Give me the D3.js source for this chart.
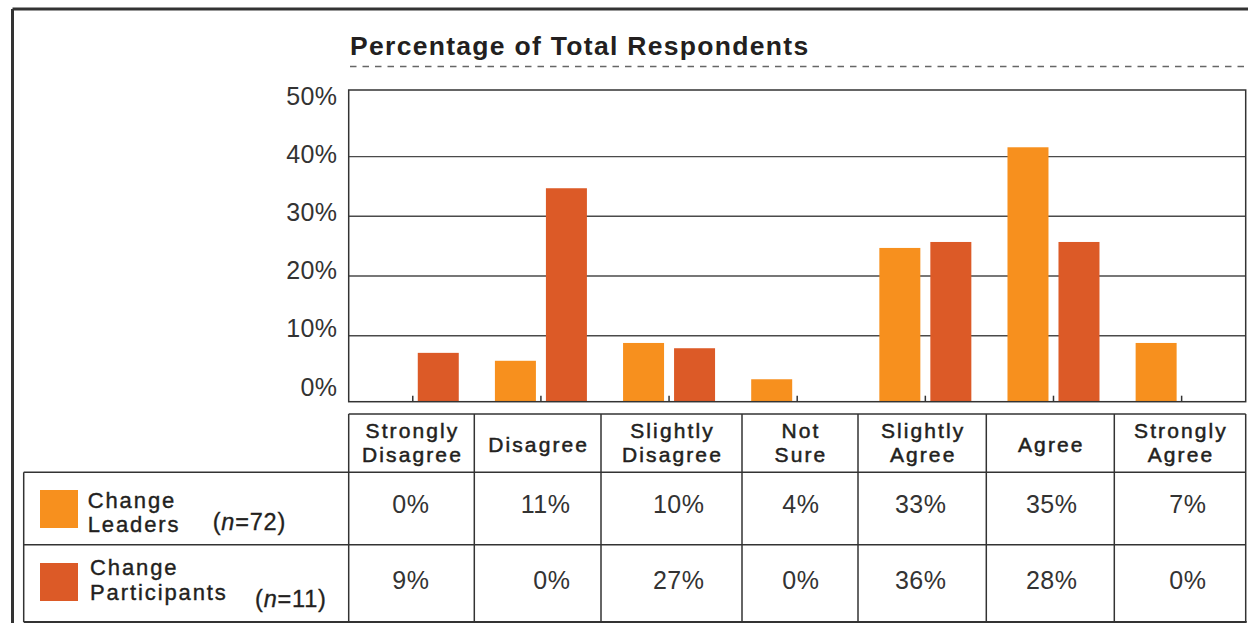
<!DOCTYPE html>
<html>
<head>
<meta charset="utf-8">
<script src="https://cdn.jsdelivr.net/npm/d3@7"></script>
<style>
  html, body { margin: 0; padding: 0; background: #fff; }
  svg { display: block; }
  text { font-family: "Liberation Sans", Arial, Helvetica, sans-serif; }
</style>
</head>
<body>
<svg id="chart" width="1248" height="623"></svg>
<script>
// ---------- data ----------
const categories = ["Strongly Disagree", "Disagree", "Slightly Disagree", "Not Sure", "Slightly Agree", "Agree", "Strongly Agree"];
const headerLines = [["Strongly", "Disagree"], ["Disagree"], ["Slightly", "Disagree"], ["Not", "Sure"], ["Slightly", "Agree"], ["Agree"], ["Strongly", "Agree"]];
const seriesKeys = ["leaders", "participants"];
const seriesLabels = [["Change", "Leaders"], ["Change", "Participants"]];
const seriesN = ["72", "11"];
const leadersBars = [0, 6.2, 8.9, 3.4, 24.7, 41.4, 8.9];
const participantsBars = [7.4, 34.7, 8.1, 0, 25.7, 25.7, 0];
const leadersTable = [0, 11, 10, 4, 33, 35, 7];
const participantsTable = [9, 0, 27, 0, 36, 28, 0];
const yTickValues = [0, 10, 20, 30, 40, 50];
const gridValues = [10, 20, 30, 40];
const titleText = "Percentage of Total Respondents";

// ---------- layout ----------
const colors = { leaders: "#F7901E", participants: "#DC5A27" };
const ink = "#231f20";
const lineCol = "#333";
const plotLeft = 348.7, plotRight = 1245.7, plotTop = 90, plotBottom = 401.7;
const colEdges = [348.7, 474.3, 601, 742, 858, 986.3, 1114.3, 1245.7];
const valueRight = [429, 570, 704, 819, 946, 1077, 1206];

const svg = d3.select("#chart");

// page frame
svg.append("line").attr("x1", 12.5).attr("x2", 1248).attr("y1", 9).attr("y2", 9)
  .attr("stroke", lineCol).attr("stroke-width", 3);
svg.append("line").attr("x1", 12.5).attr("x2", 12.5).attr("y1", 9).attr("y2", 623)
  .attr("stroke", lineCol).attr("stroke-width", 3);

// title
svg.append("text").attr("x", 350).attr("y", 55)
  .attr("font-size", 26.5).attr("font-weight", "bold").attr("letter-spacing", 1.3)
  .attr("fill", ink).text(titleText);
svg.append("line").attr("x1", 350).attr("x2", 1246).attr("y1", 66.5).attr("y2", 66.5)
  .attr("stroke", "#666").attr("stroke-width", 1.3).attr("stroke-dasharray", "6.5,6");

// scales
const y = d3.scaleLinear().domain([0, 10, 40, 50]).range([plotBottom, 335.7, 156.6, plotTop]);
const yLabel = d3.scaleLinear().domain([0, 50]).range([395, 104.7]);
const x = d3.scaleBand().domain(categories).range([plotLeft, plotRight]);
const x1 = d3.scaleBand().domain(seriesKeys)
  .range([x.bandwidth() / 2 - 46, x.bandwidth() / 2 + 46]).paddingInner(10 / 51);

// gridlines
svg.append("g").selectAll("line").data(gridValues).join("line")
  .attr("x1", plotLeft).attr("x2", plotRight)
  .attr("y1", d => y(d)).attr("y2", d => y(d))
  .attr("stroke", "#4a4a4a").attr("stroke-width", 1.4);

// bars
const barData = categories.map((c, i) => ({ cat: c, leaders: leadersBars[i], participants: participantsBars[i] }));
const groups = svg.append("g").selectAll("g").data(barData).join("g")
  .attr("transform", d => `translate(${x(d.cat)},0)`);
groups.selectAll("rect")
  .data(d => seriesKeys.map(k => ({ key: k, value: d[k] })).filter(e => e.value > 0))
  .join("rect")
  .attr("x", d => x1(d.key)).attr("width", x1.bandwidth())
  .attr("y", d => y(d.value)).attr("height", d => y(0) - y(d.value))
  .attr("fill", d => colors[d.key]);

// plot frame
svg.append("rect").attr("x", plotLeft).attr("y", plotTop)
  .attr("width", plotRight - plotLeft).attr("height", plotBottom - plotTop)
  .attr("fill", "none").attr("stroke", lineCol).attr("stroke-width", 1.5);

// category ticks
const xAxis = svg.append("g").attr("transform", `translate(0,${plotBottom})`)
  .call(d3.axisBottom(x).tickSizeInner(-6).tickSizeOuter(0).tickFormat(""));
xAxis.select(".domain").remove();
xAxis.selectAll("line").attr("stroke", lineCol).attr("stroke-width", 1.5);

// y axis labels
const yAxis = svg.append("g").attr("transform", "translate(337.5,0)")
  .call(d3.axisLeft(yLabel).tickValues(yTickValues).tickSize(0).tickPadding(0).tickFormat(d => d + "%"));
yAxis.select(".domain").remove();
yAxis.selectAll("text").attr("dy", 0).attr("font-size", 25).attr("letter-spacing", 0.4)
  .attr("fill", "#333").attr("font-family", "'Liberation Sans', Arial, sans-serif");

// ---------- table ----------
const tbl = svg.append("g");
const headerTop = 414, row1Top = 472.3, row2Top = 544.7, tableBottom = 622;
const hl = (x1_, x2_, yy, w) => tbl.append("line").attr("x1", x1_).attr("x2", x2_).attr("y1", yy).attr("y2", yy)
  .attr("stroke", lineCol).attr("stroke-width", w || 1.5);
const vl = (xx, y1_, y2_, w) => tbl.append("line").attr("x1", xx).attr("x2", xx).attr("y1", y1_).attr("y2", y2_)
  .attr("stroke", lineCol).attr("stroke-width", w || 1.5);
hl(plotLeft, plotRight, headerTop);
hl(23.7, plotRight, row1Top);
hl(23.7, plotRight, row2Top);
hl(23.7, plotRight + 1, tableBottom, 2.2);
vl(23.7, row1Top, tableBottom);
colEdges.forEach(e => vl(e, headerTop, tableBottom));

// header labels
categories.forEach((c, i) => {
  const cx = (colEdges[i] + colEdges[i + 1]) / 2 + 1;
  const lines = headerLines[i];
  const bases = lines.length === 2 ? [438.3, 462] : [451.5];
  lines.forEach((ln, j) => {
    tbl.append("text").attr("x", cx).attr("y", bases[j]).attr("text-anchor", "middle")
      .attr("font-size", 21).attr("letter-spacing", 2.1).attr("fill", ink)
      .attr("stroke", ink).attr("stroke-width", 0.5).text(ln);
  });
});

// values
const tableRows = [leadersTable, participantsTable];
const rowBase = [512.7, 589];
tableRows.forEach((row, r) => {
  row.forEach((v, i) => {
    tbl.append("text").attr("x", valueRight[i] + 0.5).attr("y", rowBase[r]).attr("text-anchor", "end")
      .attr("font-size", 25).attr("letter-spacing", 0.5).attr("fill", "#333").text(v + "%");
  });
});

// legend cells
const legendSwatchY = [490, 563];
const labelBases = [[507.5, 532.2], [575.3, 599.9]];
const labelX = [87.7, 90];
const nPos = [[212.7, 530], [255, 606.7]];
seriesKeys.forEach((k, r) => {
  tbl.append("rect").attr("x", 40).attr("y", legendSwatchY[r]).attr("width", 38).attr("height", 38)
    .attr("fill", colors[k]);
  seriesLabels[r].forEach((ln, j) => {
    tbl.append("text").attr("x", labelX[r]).attr("y", labelBases[r][j])
      .attr("font-size", 22).attr("letter-spacing", 1.9).attr("fill", ink)
      .attr("stroke", ink).attr("stroke-width", 0.4).text(ln);
  });
  const t = tbl.append("text").attr("x", nPos[r][0]).attr("y", nPos[r][1])
    .attr("font-size", 23.5).attr("letter-spacing", 0.8).attr("fill", ink)
    .attr("stroke", ink).attr("stroke-width", 0.35);
  t.append("tspan").text("(");
  t.append("tspan").attr("font-style", "italic").text("n");
  t.append("tspan").text("=" + seriesN[r] + ")");
});
</script>
</body>
</html>
